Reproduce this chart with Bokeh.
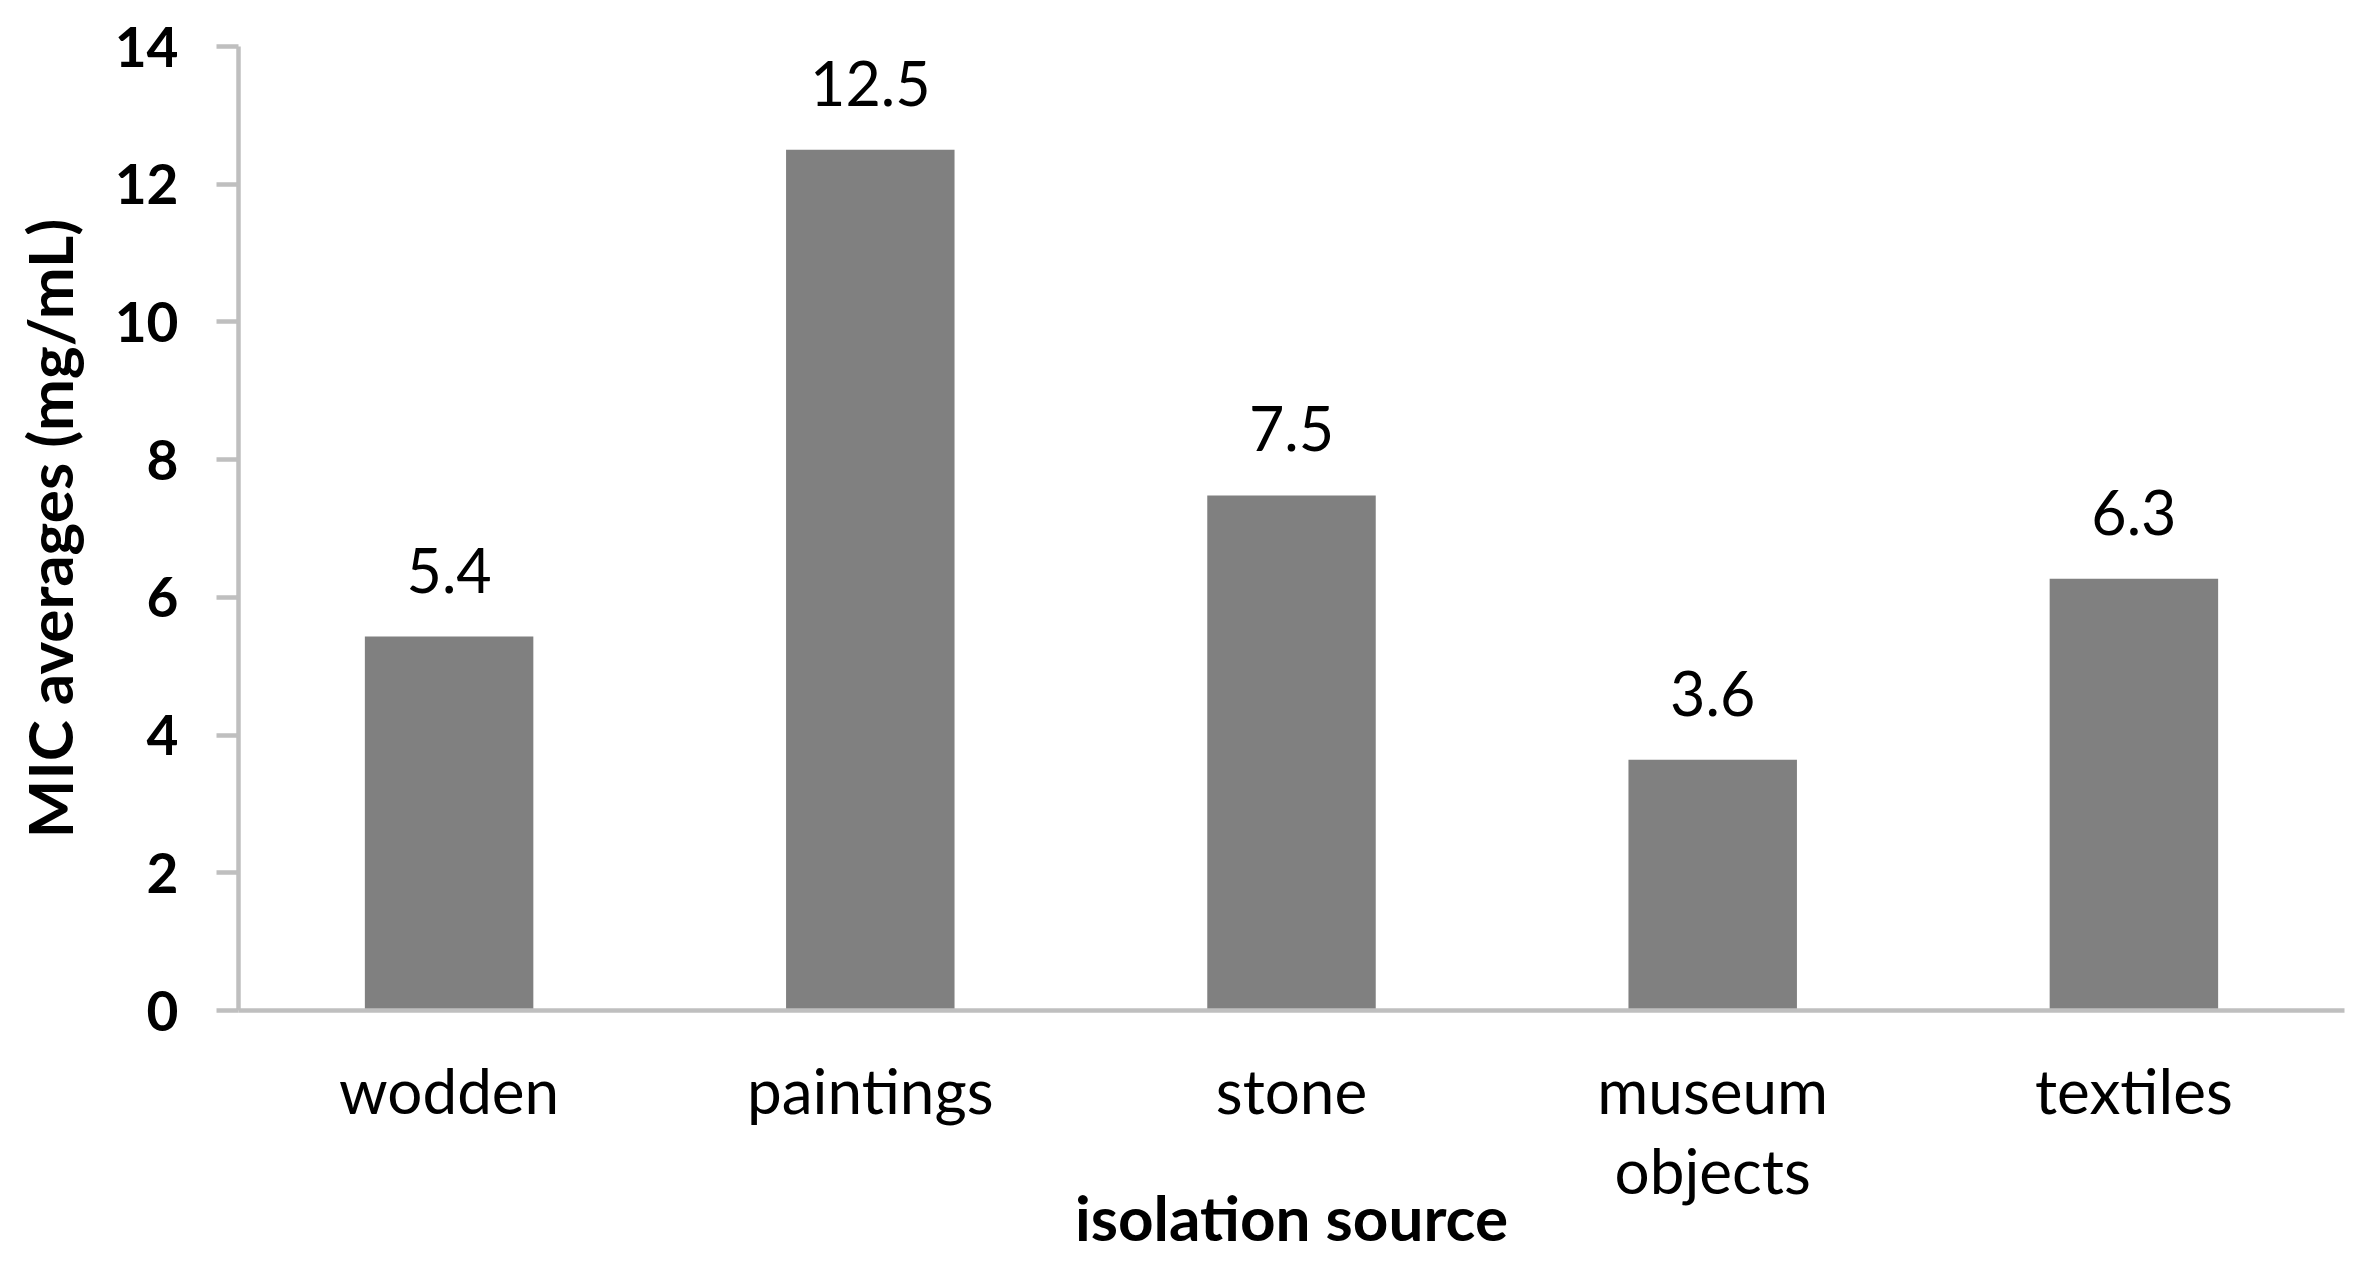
from bokeh.plotting import figure
from bokeh.models import FactorRange, Range1d, ColumnDataSource, LabelSet, FixedTicker
from bokeh.core.properties import value
from bokeh.embed import file_html
from bokeh.resources import INLINE

categories = ["wodden", "paintings", "stone", "museum\nobjects", "textiles"]
values = [5.43, 12.5, 7.48, 3.64, 6.27]
value_labels = ["5.4", "12.5", "7.5", "3.6", "6.3"]
y_ticks = [0, 2, 4, 6, 8, 10, 12, 14]
x_title = "isolation source"
y_title = "MIC averages (mg/mL)"

FONT = "Lato"
AXIS_GREY = "#bfbfbf"
BAR_GREY = "#808080"

source = ColumnDataSource(dict(cat=categories, val=values, lab=value_labels))

p = figure(
    frame_width=2106, frame_height=964,
    x_range=FactorRange(*categories, range_padding=0),
    y_range=Range1d(0, 14),
    output_backend="svg", toolbar_location=None,
    min_border_left=238, min_border_right=16,
    min_border_top=46, min_border_bottom=240,
)
p.outline_line_color = None
p.xgrid.grid_line_color = None
p.ygrid.grid_line_color = None

p.vbar(x="cat", top="val", width=0.4, source=source,
       fill_color=BAR_GREY, line_color=None)

labels = LabelSet(x="cat", y="val", text="lab", source=source,
                  text_align="center", text_baseline="bottom", y_offset=44,
                  text_font=value(FONT), text_font_size="61px", text_color="black")
p.add_layout(labels)

# y axis
ya = p.yaxis[0]
ya.ticker = FixedTicker(ticks=y_ticks)
ya.axis_line_color = AXIS_GREY
ya.axis_line_width = 4.5
ya.major_tick_line_color = AXIS_GREY
ya.major_tick_line_width = 4.5
ya.major_tick_out = 22
ya.major_tick_in = 0
ya.minor_tick_line_color = None
ya.major_label_standoff = 38
ya.major_label_text_font = FONT
ya.major_label_text_font_style = "bold"
ya.major_label_text_font_size = "55px"
ya.major_label_text_color = "black"
ya.axis_label = y_title
ya.axis_label_text_font = FONT
ya.axis_label_text_font_style = "bold"
ya.axis_label_text_font_size = "62px"
ya.axis_label_text_color = "black"
ya.axis_label_standoff = 26

# x axis
xa = p.xaxis[0]
xa.axis_line_color = AXIS_GREY
xa.axis_line_width = 4.5
xa.major_tick_line_color = None
xa.major_tick_out = 0
xa.major_tick_in = 0
xa.minor_tick_line_color = None
xa.major_label_standoff = 42
xa.major_label_text_font = FONT
xa.major_label_text_font_size = "62px"
xa.major_label_text_color = "black"
xa.major_label_text_line_height = 1.09
xa.axis_label = x_title
xa.axis_label_text_font = FONT
xa.axis_label_text_font_style = "bold"
xa.axis_label_text_font_size = "62px"
xa.axis_label_text_color = "black"
xa.axis_label_standoff = -30

open("out.html", "w").write(file_html(p, INLINE))
